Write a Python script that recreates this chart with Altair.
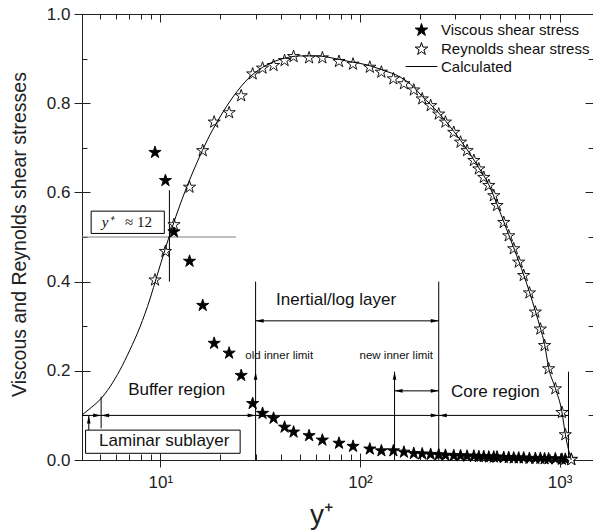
import altair as alt
import pandas as pd

# Wall-normal positions (y+) at which both stress profiles were sampled
y_plus = [9.4, 10.6, 11.7, 14.0, 16.3, 18.6, 22.1, 25.4, 29.0, 32.5,
          36.9, 41.9, 46.5, 55.6, 64.8, 78.5, 92.3, 112, 128, 147,
          166, 186, 205, 226, 248, 268, 295, 319, 344, 372,
          394, 417, 442, 468, 486, 525, 556, 589, 624, 661,
          706, 756, 801, 841, 881, 952, 1027, 1068, 1144]

viscous = [0.691, 0.628, 0.513, 0.447, 0.348, 0.263, 0.241, 0.191, 0.128, 0.106,
           0.095, 0.075, 0.064, 0.056, 0.046, 0.039, 0.032, 0.026, 0.022, 0.022,
           0.019, 0.016, 0.015, 0.014, 0.013, 0.012, 0.011, 0.011, 0.010, 0.010,
           0.009, 0.009, 0.008, 0.008, 0.008, 0.007, 0.007, 0.006, 0.006, 0.006,
           0.005, 0.005, 0.005, 0.004, 0.004, 0.004, 0.003, 0.003, 0.003]

reynolds = [0.405, 0.469, 0.529, 0.613, 0.695, 0.759, 0.780, 0.818, 0.867, 0.880,
            0.886, 0.897, 0.906, 0.903, 0.903, 0.895, 0.889, 0.882, 0.871, 0.856,
            0.845, 0.831, 0.811, 0.796, 0.777, 0.759, 0.736, 0.714, 0.695, 0.673,
            0.654, 0.635, 0.617, 0.594, 0.572, 0.534, 0.504, 0.475, 0.445, 0.415,
            0.376, 0.333, 0.295, 0.258, 0.206, 0.161, 0.108, 0.058, 0.002]

# Calculated Reynolds shear stress profile
calc_y_plus = [4.05, 4.54, 4.98, 5.59, 6.28, 7.04, 7.90, 8.87, 9.62, 10.54,
               11.43, 12.54, 14.07, 15.79, 17.72, 19.89, 23.11, 28.11, 34.20, 41.14,
               50.05, 60.89, 73.21, 89.1, 108.4, 130.4, 158.6, 186, 205, 226,
               248, 295, 344, 394, 442, 486, 556, 624, 706, 756,
               801, 841, 881, 952, 1027, 1068, 1144]
calc_stress = [0.101, 0.119, 0.135, 0.164, 0.202, 0.247, 0.298, 0.361, 0.413, 0.471,
               0.520, 0.572, 0.630, 0.682, 0.729, 0.769, 0.814, 0.859, 0.886, 0.900,
               0.906, 0.906, 0.901, 0.893, 0.886, 0.874, 0.859, 0.836, 0.815, 0.797,
               0.778, 0.737, 0.696, 0.655, 0.617, 0.573, 0.505, 0.446, 0.377, 0.334,
               0.296, 0.259, 0.207, 0.161, 0.108, 0.058, 0.0]

VISC = "Viscous shear stress"
REYN = "Reynolds shear stress"
CALC = "Calculated"

# Region bracket lines (y+, stress)
h_x1 = [4.05, 30, 149]
h_x2 = [1108, 248, 248]
h_y = [0.1, 0.312, 0.155]
ref_x1, ref_x2, ref_y = [4.05], [23.9], [0.5]

v_x = [30, 248, 149, 1108, 11.1, 5.05, 4.38]
v_y1 = [0.0, 0.0, 0.0, 0.0, 0.40, 0.071, 0.067]
v_y2 = [0.40, 0.40, 0.198, 0.198, 0.605, 0.142, 0.1]

# Arrow tips
right_x = [5.05, 30, 248, 1108, 248, 248]
right_y = [0.1, 0.1, 0.1, 0.1, 0.312, 0.155]
left_x = [5.05, 30, 248, 30, 149]
left_y = [0.1, 0.1, 0.1, 0.312, 0.155]
up_x = [4.38, 30, 149]
up_y = [0.1, 0.198, 0.198]

# Label boxes
box_x1 = [4.50, 4.22]
box_x2 = [10.47, 25.1]
box_y1 = [0.508, 0.015]
box_y2 = [0.558, 0.067]

big_labels = ["Buffer region", "Inertial/log layer", "Core region", "Laminar sublayer"]
big_x = [12.07, 75.9, 476.7, 10.46]
big_y = [0.157, 0.359, 0.153, 0.0415]
small_labels = ["old inner limit", "new inner limit"]
small_x = [39.4, 152]
small_y = [0.234, 0.234]

SANS = "Liberation Sans"
SERIF = "Liberation Serif"
INK = "#222222"

STAR = ("M0,-0.905L0.2245,-0.214L0.951,-0.214L0.363,0.213L0.588,0.904L0,0.477"
        "L-0.588,0.904L-0.363,0.213L-0.951,-0.214L-0.2245,-0.214Z")
STROKE = "M-2.4,0L2.4,0"
ARROW_R = "M-1,-0.45L1,0L-1,0.45Z"
ARROW_L = "M1,-0.45L-1,0L1,0.45Z"
ARROW_U = "M-0.45,1L0,-1L0.45,1Z"

x_scale = alt.Scale(type="log", domain=[4.05, 1470], nice=False)
y_scale = alt.Scale(domain=[0, 1], nice=False)

n = len(y_plus)
points = pd.DataFrame({
    "y_plus": y_plus + y_plus,
    "stress": viscous + reynolds,
    "series": [VISC] * n + [REYN] * n,
})
calc = pd.DataFrame({"y_plus": calc_y_plus, "stress": calc_stress})


def X(field):
    return alt.X(field, type="quantitative", scale=x_scale, axis=None)


def Y(field):
    return alt.Y(field, type="quantitative", scale=y_scale, axis=None)


x_major = [10, 100, 1000]
x_minor = [5, 6, 7, 8, 9, 20, 30, 40, 50, 60, 70, 80, 90,
           200, 300, 400, 500, 600, 700, 800, 900]
y_major = [0, 0.2, 0.4, 0.6, 0.8, 1.0]
y_minor = [0.1, 0.3, 0.5, 0.7, 0.9]


def tick_axis(orient, values, size, offset):
    return alt.Axis(orient=orient, values=values, tickSize=size, offset=offset,
                    labels=False, domain=False, grid=False, title=None,
                    tickColor=INK, tickWidth=1)


def axis_layer(xa, ya):
    return alt.Chart(calc).mark_point(opacity=0).encode(
        x=alt.X("y_plus:Q", scale=x_scale, axis=xa),
        y=alt.Y("stress:Q", scale=y_scale, axis=ya),
    )


main_x = alt.Axis(
    orient="bottom", values=x_major,
    labelExpr="datum.value == 10 ? '10¹' : datum.value == 100 ? '10²' : '10³'",
    tickSize=7, tickColor=INK, labelPadding=7, labelFontSize=17, labelFont=SANS,
    labelColor=INK, labelOverlap=False, labelFlush=False, domain=False, grid=False,
    title="y⁺", titleFont=SANS, titleFontSize=28, titleFontWeight="normal",
    titleColor=INK, titleX=239, titleY=63, titleAlign="center", titleBaseline="alphabetic",
)
main_y = alt.Axis(
    orient="left", values=y_major, format=".1f",
    tickSize=8, tickColor=INK, labelPadding=4, labelFontSize=17, labelFont=SANS,
    labelColor=INK, labelOverlap=False, domain=False, grid=False,
    title="Viscous and Reynolds shear stresses", titleFont=SANS, titleFontSize=19.5,
    titleFontWeight="normal", titleColor=INK, titleAngle=270, titleX=-57, titleY=220,
    titleAlign="center", titleBaseline="alphabetic",
)

axes = [
    axis_layer(main_x, main_y),
    axis_layer(tick_axis("bottom", x_major, 7, -7), tick_axis("left", y_major, 8, -8)),
    axis_layer(tick_axis("bottom", x_minor, 6, -6), tick_axis("left", y_minor, 5, -5)),
    axis_layer(tick_axis("top", x_major, 8, -8), tick_axis("right", y_major, 8, -8)),
    axis_layer(tick_axis("top", x_minor, 5, -5), tick_axis("right", y_minor, 5, -5)),
]

hseg = pd.DataFrame({"x1": h_x1, "x2": h_x2, "y": h_y})
refseg = pd.DataFrame({"x1": ref_x1, "x2": ref_x2, "y": ref_y})
vseg = pd.DataFrame({"x": v_x, "y1": v_y1, "y2": v_y2})
boxes = pd.DataFrame({"x1": box_x1, "x2": box_x2, "y1": box_y1, "y2": box_y2})

h_rules = alt.Chart(hseg).mark_rule(color="black", strokeWidth=1).encode(
    x=X("x1"), x2="x2", y=Y("y"))
ref_rule = alt.Chart(refseg).mark_rule(color="#808080", strokeWidth=1.2).encode(
    x=X("x1"), x2="x2", y=Y("y"))
v_rules = alt.Chart(vseg).mark_rule(color="black", strokeWidth=1).encode(
    x=X("x"), y=Y("y1"), y2="y2")
box_marks = alt.Chart(boxes).mark_rect(fill="white", stroke="black", strokeWidth=1).encode(
    x=X("x1"), x2="x2", y=Y("y1"), y2="y2")


def arrowheads(xs, ys, path, dx=0, dy=0):
    df = pd.DataFrame({"x": xs, "y": ys})
    return alt.Chart(df).mark_point(
        shape=path, size=64, filled=True, color="black", opacity=1,
        xOffset=dx, yOffset=dy,
    ).encode(x=X("x"), y=Y("y"))


arrows = [
    arrowheads(right_x, right_y, ARROW_R, dx=-4),
    arrowheads(left_x, left_y, ARROW_L, dx=4),
    arrowheads(up_x, up_y, ARROW_U, dy=4),
]

big_text = alt.Chart(pd.DataFrame({"t": big_labels, "x": big_x, "y": big_y})).mark_text(
    font=SANS, fontSize=17, color="#111111", align="center", baseline="middle"
).encode(x=X("x"), y=Y("y"), text="t:N")
small_text = alt.Chart(pd.DataFrame({"t": small_labels, "x": small_x, "y": small_y})).mark_text(
    font=SANS, fontSize=11.5, color="#111111", align="center", baseline="middle"
).encode(x=X("x"), y=Y("y"), text="t:N")
yplus_text = alt.Chart(pd.DataFrame({"t": ["y⁺"], "x": [5.08], "y": [0.534]})).mark_text(
    font=SERIF, fontSize=15, fontStyle="italic", color="#111111", align="left", baseline="middle"
).encode(x=X("x"), y=Y("y"), text="t:N")
approx_text = alt.Chart(pd.DataFrame({"t": ["≈ 12"], "x": [6.65], "y": [0.534]})).mark_text(
    font=SERIF, fontSize=15, color="#111111", align="left", baseline="middle"
).encode(x=X("x"), y=Y("y"), text="t:N")

legend = alt.Legend(
    orient="none", legendX=332, legendY=8, title=None, padding=0,
    labelFont=SANS, labelFontSize=15, labelColor="#111111", labelOffset=12,
    symbolSize=175, symbolStrokeWidth=1, rowPadding=2,
)
series_domain = [VISC, REYN, CALC]

stars = alt.Chart(points).mark_point(
    filled=True, size=165, strokeWidth=0.9, opacity=1
).encode(
    x=X("y_plus"),
    y=Y("stress"),
    fill=alt.Fill("series:N", scale=alt.Scale(domain=series_domain,
                                               range=["black", "white", "transparent"]),
                  legend=legend),
    stroke=alt.Stroke("series:N", scale=alt.Scale(domain=series_domain,
                                                   range=["black", "black", "black"]),
                      legend=legend),
    shape=alt.Shape("series:N", scale=alt.Scale(domain=series_domain,
                                                 range=[STAR, STAR, STROKE]),
                    legend=legend),
)

curve = alt.Chart(calc).mark_line(color="black", strokeWidth=1, interpolate="monotone").encode(
    x=X("y_plus"), y=Y("stress"))

chart = alt.layer(
    *axes, ref_rule, h_rules, v_rules, box_marks, *arrows,
    big_text, small_text, yplus_text, approx_text, stars, curve,
).resolve_axis(
    x="independent", y="independent"
).properties(
    width=511, height=446,
    padding={"left": 82, "top": 14, "right": 0, "bottom": 72},
    autosize=alt.AutoSizeParams(type="none"),
).configure_view(
    stroke=INK, strokeWidth=1
)

chart.save("out.html", embed_options={"renderer": "svg", "actions": False})
